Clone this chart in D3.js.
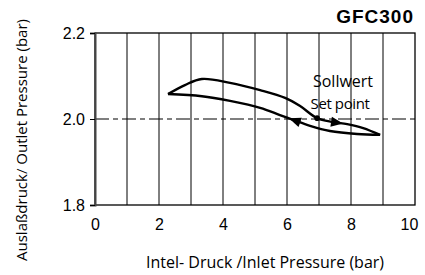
<!DOCTYPE html>
<html>
<head>
<meta charset="utf-8">
<script src="https://cdn.jsdelivr.net/npm/d3@7"></script>
<style>
  body { margin: 0; background: #fff; }
  svg { display: block; }
  .tick text { font-family: "Liberation Sans", Arial, sans-serif; font-size: 16px; fill: #000; }
</style>
</head>
<body>
<div id="chart"></div>
<script>
// inlet pressure (bar) / outlet pressure (bar)
var upper_x = [2.28, 2.81, 3.34, 4.22, 5.16, 5.94, 6.41, 6.94, 7.44, 7.88, 8.38, 8.91];
var upper_y = [2.058, 2.079, 2.093, 2.084, 2.067, 2.049, 2.030, 2.002, 1.993, 1.988, 1.979, 1.963];
var lower_x = [2.28, 3.34, 4.22, 5.16, 5.78, 6.19, 6.72, 7.34, 8.19, 8.91];
var lower_y = [2.058, 2.053, 2.042, 2.026, 2.009, 1.998, 1.984, 1.972, 1.965, 1.963];
var set_point = [6.94, 2.002];
var x_ticks = [0, 2, 4, 6, 8, 10];
var y_ticks = [1.8, 2.0, 2.2];
var grid_x = [1, 2, 3, 4, 5, 6, 7, 8, 9];
// arrow tips: which curve, at which inlet pressure, which way
var arrows = [{curve: "lower", at: 6.06, dir: -1}, {curve: "upper", at: 7.75, dir: 1}];

var width = 425, height = 275;
var margin = {top: 33, right: 10, bottom: 70, left: 95};

var svg = d3.select("#chart").append("svg")
  .attr("width", width)
  .attr("height", height);

var x = d3.scaleLinear().domain([0, 10]).range([margin.left, width - margin.right]);
var y = d3.scaleLinear().domain([1.8, 2.2]).range([height - margin.bottom, margin.top]);

// vertical grid
svg.append("g").selectAll("line")
  .data(grid_x)
  .enter().append("line")
    .attr("x1", d => x(d)).attr("x2", d => x(d))
    .attr("y1", y(2.2)).attr("y2", y(1.8))
    .attr("stroke", "#000")
    .attr("stroke-width", 1);

// set point line
svg.append("line")
  .attr("x1", x(0)).attr("x2", x(10))
  .attr("y1", y(2.0)).attr("y2", y(2.0))
  .attr("stroke", "#000")
  .attr("stroke-width", 1.2)
  .attr("stroke-dasharray", "14,4,5,4");

// frame
svg.append("rect")
  .attr("x", x(0)).attr("y", y(2.2))
  .attr("width", x(10) - x(0)).attr("height", y(1.8) - y(2.2))
  .attr("fill", "none")
  .attr("stroke", "#000")
  .attr("stroke-width", 1.3);

// axes
var yAxis = svg.append("g")
  .attr("transform", "translate(" + margin.left + ",0)")
  .call(d3.axisLeft(y).tickValues(y_ticks).tickFormat(d3.format(".1f")).tickSize(5).tickPadding(5));
yAxis.select(".domain").attr("stroke", "#444").attr("stroke-width", 2);

var xAxis = svg.append("g")
  .attr("transform", "translate(0," + y(1.8) + ")")
  .call(d3.axisBottom(x).tickValues(x_ticks).tickFormat(d3.format("d")).tickSize(0).tickPadding(14));
xAxis.select(".domain").remove();
xAxis.selectAll(".tick").filter(d => d == 10).select("text").attr("dx", "-6");

// hysteresis loop
var line = d3.line()
  .x(d => x(d[0]))
  .y(d => y(d[1]))
  .curve(d3.curveCatmullRom);

var upper = d3.zip(upper_x, upper_y);
var lower = d3.zip(lower_x, lower_y);

svg.selectAll(".loop")
  .data([upper, lower])
  .enter().append("path")
    .attr("class", "loop")
    .attr("d", line)
    .attr("fill", "none")
    .attr("stroke", "#000")
    .attr("stroke-width", 2.4)
    .attr("stroke-linejoin", "round");

// arrow heads
function yAt(xs, ys, v){
  var i = d3.bisectRight(xs, v) - 1;
  i = Math.max(0, Math.min(xs.length - 2, i));
  var t = (v - xs[i]) / (xs[i+1] - xs[i]);
  return ys[i] + t * (ys[i+1] - ys[i]);
}
svg.selectAll(".arrow")
  .data(arrows)
  .enter().append("path")
    .attr("class", "arrow")
    .attr("d", "M0,0L-12,-5L-12,5Z")
    .attr("fill", "#000")
    .attr("transform", function(d){
      var xs = d.curve == "upper" ? upper_x : lower_x;
      var ys = d.curve == "upper" ? upper_y : lower_y;
      var px = x(d.at), py = y(yAt(xs, ys, d.at));
      var bx = x(d.at - d.dir * 0.3), by = y(yAt(xs, ys, d.at - d.dir * 0.3));
      var ang = Math.atan2(py - by, px - bx) * 180 / Math.PI;
      return "translate(" + px + "," + py + ") rotate(" + ang + ")";
    });

svg.append("circle")
  .attr("cx", x(set_point[0]))
  .attr("cy", y(set_point[1]))
  .attr("r", 2.8)
  .attr("fill", "#000");

// labels
svg.append("text")
  .attr("x", 343).attr("y", 87)
  .attr("text-anchor", "middle")
  .style("font-family", "'Open Sans', sans-serif")
  .style("font-size", "16px")
  .text("Sollwert");
svg.append("text")
  .attr("x", 340).attr("y", 109)
  .attr("text-anchor", "middle")
  .style("font-family", "'Open Sans', sans-serif")
  .style("font-size", "15px")
  .style("letter-spacing", "-0.4px")
  .text("Set point");

svg.append("text")
  .attr("x", 414).attr("y", 23)
  .attr("text-anchor", "end")
  .style("font-family", "'Liberation Sans', Arial, sans-serif")
  .style("font-weight", "bold")
  .style("font-size", "19px")
  .style("letter-spacing", "1px")
  .text("GFC300");

svg.append("text")
  .attr("x", 265).attr("y", 268)
  .attr("text-anchor", "middle")
  .style("font-family", "'Open Sans', sans-serif")
  .style("font-size", "16px")
  .text("Intel- Druck /Inlet Pressure (bar)");

svg.append("text")
  .attr("transform", "translate(27,140) rotate(-90)")
  .attr("text-anchor", "middle")
  .style("font-family", "'Open Sans', sans-serif")
  .style("font-size", "15px")
  .text("Auslaßdruck/ Outlet Pressure (bar)");
</script>
</body>
</html>
